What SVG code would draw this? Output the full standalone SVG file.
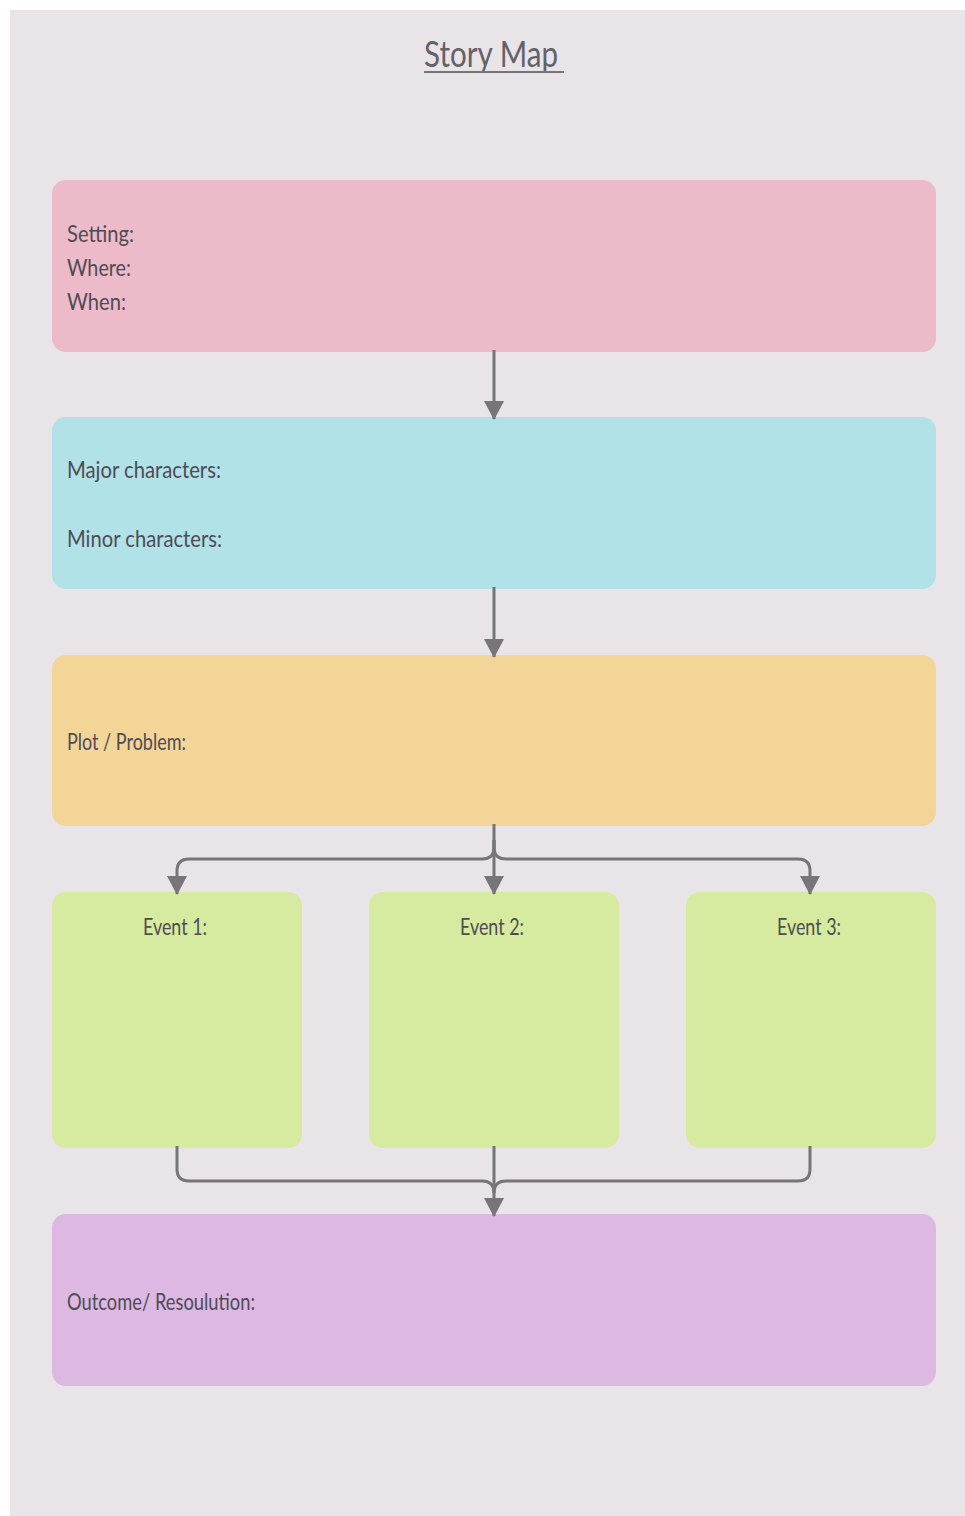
<svg xmlns="http://www.w3.org/2000/svg" width="965" height="1516" viewBox="0 0 965 1516">
  <style>
    .label { font-family: Lato, "Open Sans", "Liberation Sans", sans-serif; font-size: 24px; fill: #4f4b54; }
    .title { font-family: Lato, "Open Sans", "Liberation Sans", sans-serif; font-size: 36px; fill: #646168; }
    .wire { fill: none; stroke: #77757a; stroke-width: 3; }
  </style>
  <defs>
    <marker id="head" markerUnits="userSpaceOnUse" markerWidth="20" markerHeight="20" viewBox="0 0 20 20" refX="18" refY="10" orient="auto">
      <path d="M0,0 L19,10 L0,20 Z" fill="#77757a"/>
    </marker>
  </defs>

  <!-- page -->
  <rect x="0" y="0" width="965" height="1516" fill="#ffffff"/>
  <rect x="10" y="10" width="955" height="1506" fill="#e8e4e8"/>

  <!-- heading -->
  <g id="title">
    <text class="title" x="424" y="67" textLength="134" lengthAdjust="spacingAndGlyphs">Story Map</text>
    <line x1="424" y1="72" x2="564" y2="72" stroke="#77757a" stroke-width="2"/>
  </g>

  <g id="setting">
    <rect x="52" y="180" width="884" height="172" rx="14" fill="#ecbac8"/>
    <text class="label" x="67" y="242" textLength="67" lengthAdjust="spacingAndGlyphs">Setting:</text>
    <text class="label" x="67" y="276" textLength="64" lengthAdjust="spacingAndGlyphs">Where:</text>
    <text class="label" x="67" y="310" textLength="59" lengthAdjust="spacingAndGlyphs">When:</text>
  </g>

  <g id="characters">
    <rect x="52" y="417" width="884" height="172" rx="14" fill="#b0e2e8"/>
    <text class="label" x="67" y="478" textLength="154" lengthAdjust="spacingAndGlyphs">Major characters:</text>
    <text class="label" x="67" y="547" textLength="155" lengthAdjust="spacingAndGlyphs">Minor characters:</text>
  </g>

  <g id="plot">
    <rect x="52" y="655" width="884" height="171" rx="14" fill="#f3d598"/>
    <text class="label" x="67" y="750" textLength="119" lengthAdjust="spacingAndGlyphs">Plot / Problem:</text>
  </g>

  <g id="event1">
    <rect x="52" y="892" width="250" height="256" rx="14" fill="#d6eb9f"/>
    <text class="label" x="143" y="935" textLength="64" lengthAdjust="spacingAndGlyphs">Event 1:</text>
  </g>

  <g id="event2">
    <rect x="369" y="892" width="250" height="256" rx="14" fill="#d6eb9f"/>
    <text class="label" x="460" y="935" textLength="64" lengthAdjust="spacingAndGlyphs">Event 2:</text>
  </g>

  <g id="event3">
    <rect x="686" y="892" width="250" height="256" rx="14" fill="#d6eb9f"/>
    <text class="label" x="777" y="935" textLength="64" lengthAdjust="spacingAndGlyphs">Event 3:</text>
  </g>

  <g id="outcome">
    <rect x="52" y="1214" width="884" height="172" rx="14" fill="#dcb8e2"/>
    <text class="label" x="67" y="1310" textLength="188" lengthAdjust="spacingAndGlyphs">Outcome/ Resoulution:</text>
  </g>

  <g id="connectors">
    <!-- setting to characters -->
    <path class="wire" d="M494,350 L494,419" marker-end="url(#head)"/>
    <!-- characters to plot -->
    <path class="wire" d="M494,587 L494,657" marker-end="url(#head)"/>
    <!-- plot fans out to the three events -->
    <path class="wire" d="M494,824 L494,894" marker-end="url(#head)"/>
    <path class="wire" d="M494,840 L494,847 Q494,859 482,859 L189,859 Q177,859 177,871 L177,894" marker-end="url(#head)"/>
    <path class="wire" d="M494,840 L494,847 Q494,859 506,859 L798,859 Q810,859 810,871 L810,894" marker-end="url(#head)"/>
    <!-- events merge into the outcome -->
    <path class="wire" d="M494,1146 L494,1216" marker-end="url(#head)"/>
    <path class="wire" d="M177,1146 L177,1169 Q177,1181 189,1181 L482,1181 Q494,1181 494,1193"/>
    <path class="wire" d="M810,1146 L810,1169 Q810,1181 798,1181 L506,1181 Q494,1181 494,1193"/>
  </g>
</svg>
